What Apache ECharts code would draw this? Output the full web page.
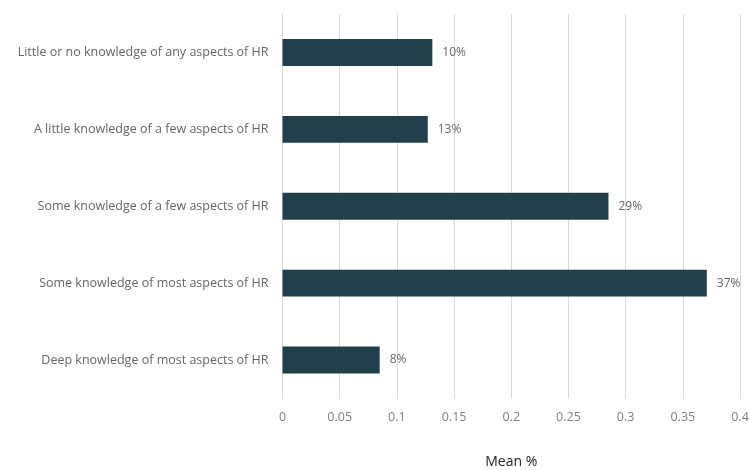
<!DOCTYPE html>
<html><head><meta charset="utf-8">
<script src="https://cdn.jsdelivr.net/npm/echarts@6/dist/echarts.min.js"></script>
<style>html,body{margin:0;padding:0;background:#fff}#c{width:749px;height:470px}</style>
</head><body><div id="c"></div>
<script>
const categories = [
  "Deep knowledge of most aspects of HR",
  "Some knowledge of most aspects of HR",
  "Some knowledge of a few aspects of HR",
  "A little knowledge of a few aspects of HR",
  "Little or no knowledge of any aspects of HR"
];
const values = [0.085, 0.371, 0.285, 0.127, 0.131];
const valueLabels = ["8%", "37%", "29%", "13%", "10%"];
const xTicks = [0, 0.05, 0.1, 0.15, 0.2, 0.25, 0.3, 0.35, 0.4];

const font = "'Open Sans', 'Noto Sans', sans-serif";
const chart = echarts.init(document.getElementById('c'), null, {renderer: 'canvas'});
chart.setOption({
  animation: false,
  grid: {left: 282.5, right: 9, top: 14, bottom: 71.5, containLabel: false, outerBoundsMode: 'none'},
  xAxis: {
    type: 'value', min: 0, max: 0.4, interval: 0.05,
    name: 'Mean %', nameLocation: 'middle', nameGap: 57,
    nameTextStyle: {color: '#262626', fontSize: 14, fontFamily: font},
    axisLine: {show: false},
    axisTick: {show: false},
    splitLine: {show: true, lineStyle: {color: '#d9d9d9', width: 1}},
    axisLabel: {color: '#808080', fontSize: 12.5, fontFamily: font, margin: 12,
      formatter: v => { const t = xTicks.find(x => Math.abs(x - v) < 1e-9); return t === undefined ? '' : String(t); }}
  },
  yAxis: {
    type: 'category', data: categories,
    axisLine: {show: true, lineStyle: {color: '#d9d9d9'}},
    axisTick: {show: false},
    axisLabel: {color: '#666666', fontSize: 12.5, fontFamily: font, margin: 14}
  },
  series: [{
    type: 'bar', data: values, barWidth: '35%',
    itemStyle: {color: '#223f4c'},
    label: {show: true, position: 'right', distance: 10, color: '#666666', fontSize: 12, fontFamily: font,
      formatter: p => valueLabels[p.dataIndex]}
  }]
});
</script></body></html>
